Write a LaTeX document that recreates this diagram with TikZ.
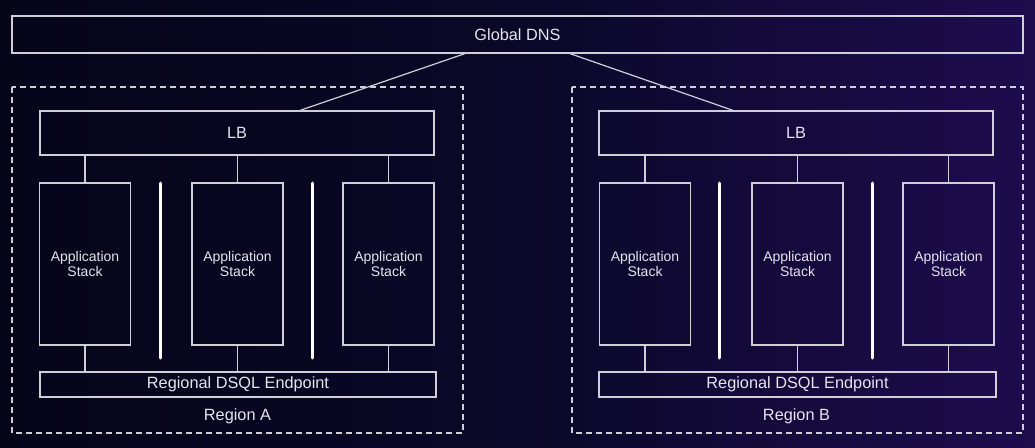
\documentclass[tikz,border=0pt]{standalone}
\usepackage{fontspec}
\setmainfont{Liberation Sans}
\usetikzlibrary{calc}
\definecolor{bgL}{HTML}{05051A}
\definecolor{bgM}{HTML}{0A0828}
\definecolor{bgR}{HTML}{1E0C4E}
\definecolor{ln}{HTML}{CFCFD8}
\definecolor{tx}{HTML}{E4E4EC}
\tikzset{
  box/.style={draw=ln, line width=1.2pt, rectangle, inner sep=0pt, text=tx,
    font=\fontsize{16.3}{18}\selectfont},
  appbox/.style={box, minimum width=91pt, minimum height=162pt, align=center,
    font=\fontsize{14}{15}\selectfont},
  region/.style={draw=ln, line width=1.2pt, dashed, dash pattern=on 6pt off 4pt},
  wire/.style={draw=ln, line width=1.2pt},
  sep/.style={draw=white, line width=3pt, line cap=round},
  lbl/.style={text=tx, inner sep=0pt, font=\fontsize{16.3}{18}\selectfont}
}
\begin{document}
\begin{tikzpicture}[x=1pt, y=-1pt]
\useasboundingbox (0,0) rectangle (1035,447);
\shade[left color=bgL, right color=bgR, middle color=bgM] (0,0) rectangle (1035,447);

\node[box, minimum width=1011pt, minimum height=37pt] (dns) at (517.5,34.5) {Global DNS};

% Region A
\draw[region] (12,87) rectangle (463,433);
\node[lbl] (regA) at (237.5,416) {Region A};
\node[box, minimum width=394pt, minimum height=44pt] (lbA) at (237,133) {LB};
\node[appbox] (a1) at (85,264) {Application\\Stack};
\node[appbox] (a2) at (237.5,264) {Application\\Stack};
\node[appbox] (a3) at (388.5,264) {Application\\Stack};
\node[box, minimum width=396pt, minimum height=25pt] (dsA) at (238,384.5) {Regional DSQL Endpoint};
\coordinate (sA1t) at (160,183); \coordinate (sA1b) at (160,358);
\coordinate (sA2t) at (312,183); \coordinate (sA2b) at (312,358);
\draw[sep] (sA1t) -- (sA1b);
\draw[sep] (sA2t) -- (sA2b);
\foreach \n in {a1,a2,a3}{
  \draw[wire] (\n.north) -- (\n.north |- lbA.south);
  \draw[wire] (\n.south) -- (\n.south |- dsA.north);
}

% Region B
\draw[region] (572,87) rectangle (1023,433);
\node[lbl] (regB) at (796.5,416) {Region B};
\node[box, minimum width=394pt, minimum height=44pt] (lbB) at (796,133) {LB};
\node[appbox] (b1) at (645,264) {Application\\Stack};
\node[appbox] (b2) at (797.5,264) {Application\\Stack};
\node[appbox] (b3) at (948.5,264) {Application\\Stack};
\node[box, minimum width=397pt, minimum height=25pt] (dsB) at (797.5,384.5) {Regional DSQL Endpoint};
\coordinate (sB1t) at (719,183); \coordinate (sB1b) at (719,358);
\coordinate (sB2t) at (872,183); \coordinate (sB2b) at (872,358);
\draw[sep] (sB1t) -- (sB1b);
\draw[sep] (sB2t) -- (sB2b);
\foreach \n in {b1,b2,b3}{
  \draw[wire] (\n.north) -- (\n.north |- lbB.south);
  \draw[wire] (\n.south) -- (\n.south |- dsB.north);
}

% DNS to LBs
\draw[wire] (dns.south -| 465,0) -- (lbA.north -| 300,0);
\draw[wire] (dns.south -| 570,0) -- (lbB.north -| 733,0);
\end{tikzpicture}
\end{document}
